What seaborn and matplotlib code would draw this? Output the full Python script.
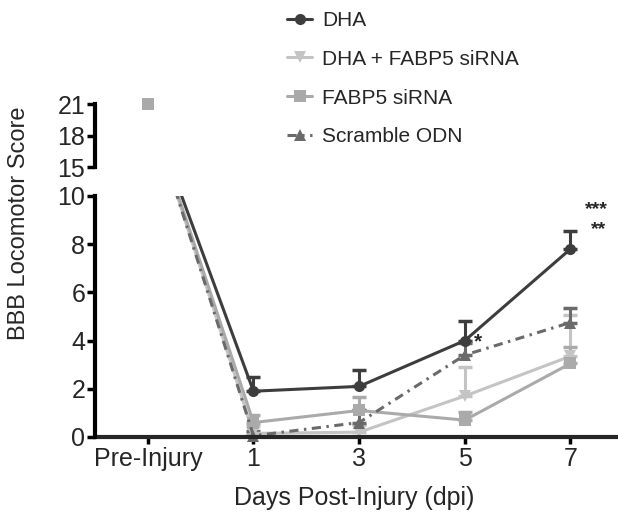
import numpy as np
import pandas as pd
import matplotlib
matplotlib.use("Agg")
import matplotlib.pyplot as plt
import seaborn as sns

# values
days = ["Pre-Injury", "1", "3", "5", "7"]
groups = ["DHA", "DHA + FABP5 siRNA", "FABP5 siRNA", "Scramble ODN"]
dha = [21, 1.9, 2.1, 4.0, 7.8]
dha_err = [0, 0.6, 0.7, 0.8, 0.75]
dha_fabp5 = [21, 0.15, 0.2, 1.7, 3.35]
dha_fabp5_err = [0, 0.3, 0.3, 1.2, 1.7]
fabp5 = [21, 0.6, 1.1, 0.7, 3.05]
fabp5_err = [0, 0.3, 0.55, 0.35, 0.7]
scramble = [21, 0.05, 0.6, 3.4, 4.75]
scramble_err = [0, 0.2, 0.5, 0.5, 0.6]
yticks = [0, 2, 4, 6, 8, 10, 15, 18, 21]

colors = {"DHA": "#3d3d3d", "DHA + FABP5 siRNA": "#c4c4c4",
          "FABP5 siRNA": "#aaaaaa", "Scramble ODN": "#6a6a6a"}
markers = {"DHA": "o", "DHA + FABP5 siRNA": "v", "FABP5 siRNA": "s", "Scramble ODN": "^"}
dashes = {"DHA": "", "DHA + FABP5 siRNA": "", "FABP5 siRNA": "", "Scramble ODN": (3, 1.8, 0.8, 1.8)}

series = {"DHA": (dha, dha_err), "DHA + FABP5 siRNA": (dha_fabp5, dha_fabp5_err),
          "FABP5 siRNA": (fabp5, fabp5_err), "Scramble ODN": (scramble, scramble_err)}

df = pd.DataFrame([{"day": d, "score": v, "group": g}
                   for g in groups for d, v in zip(days, series[g][0])])

# broken y axis: 0-10 full size, a gap, then 15-21 compressed
GAP = 1.2
K = 0.436


def fwd(y):
    y = np.asarray(y, float)
    return np.where(y <= 10, y, np.where(y <= 15, 10 + (y - 10) * GAP / 5, 10 + GAP + (y - 15) * K))


def inv(t):
    t = np.asarray(t, float)
    return np.where(t <= 10, t, np.where(t <= 10 + GAP, 10 + (t - 10) * 5 / GAP, 15 + (t - 10 - GAP) / K))


sns.set_theme(style="ticks")
plt.rcParams["font.family"] = ["Liberation Sans", "DejaVu Sans"]

fig = plt.figure(figsize=(6.18, 5.24), dpi=100)
ax = fig.add_axes([95 / 618, 87 / 524, 1 - 95 / 618, (437 - 104) / 524])

sns.lineplot(data=df, x="day", y="score", hue="group", style="group", hue_order=groups,
             style_order=groups, palette=colors, markers=markers, dashes=dashes,
             linewidth=2.2, markersize=8, markeredgewidth=0, clip_on=False, ax=ax)

for g in groups:
    vals, errs = series[g]
    ax.errorbar(days[1:], vals[1:], yerr=[np.zeros(4), errs[1:]], fmt="none",
                ecolor=colors[g], elinewidth=2.2, capsize=5, capthick=2.5, zorder=1.8)

ax.set_yscale("function", functions=(fwd, inv))
ax.set_ylim(0, 21)
ax.set_xlim(-0.5, 4.45)

# the lines only show below the break; the upper part keeps just the pre-injury markers
ax.axhspan(10, 21.5, color="white", zorder=2.6, lw=0, clip_on=False)
for g in ["DHA", "Scramble ODN", "DHA + FABP5 siRNA", "FABP5 siRNA"]:
    ax.plot(days[:1], series[g][0][:1], marker=markers[g], color=colors[g], ms=8,
            mew=0, ls="none", zorder=3, clip_on=False)

ax.spines[["top", "right", "left"]].set_visible(False)
ax.spines["bottom"].set_linewidth(3)
for lo, hi in [(0, 10), (15, 21)]:
    ax.plot([0, 0], [lo, hi], transform=ax.get_yaxis_transform(), color="black",
            lw=3, clip_on=False, solid_capstyle="projecting", zorder=4)

ax.set_yticks(yticks)
ax.set_yticklabels([str(t) for t in yticks])
ax.tick_params(axis="y", length=6, width=2.5, labelsize=18, pad=1, color="black")
ax.tick_params(axis="x", length=5, width=2.5, labelsize=18, pad=2, color="black")

ax.set_xlabel("Days Post-Injury (dpi)", fontsize=18)
ax.set_ylabel("BBB Locomotor Score", fontsize=17)
ax.xaxis.set_label_coords(0.495, -0.148)
ax.yaxis.set_label_coords(-0.125, 0.643)

ax.text(4.25, 9.45, "***", fontsize=14, fontweight="bold", ha="center", va="center")
ax.text(4.27, 8.6, "**", fontsize=14, fontweight="bold", ha="center", va="center")
ax.text(3.12, 3.95, "*", fontsize=15, fontweight="bold", ha="center", va="center")

handles, labels = ax.get_legend_handles_labels()
ax.legend(handles, labels, loc="upper left", bbox_to_anchor=(287 / 618, 1 - 11 / 524),
          bbox_transform=fig.transFigure, frameon=False, fontsize=15, handlelength=1.2,
          handletextpad=0.48, labelspacing=0.95, borderpad=0, borderaxespad=0)

fig.savefig("out.png", dpi=100)
